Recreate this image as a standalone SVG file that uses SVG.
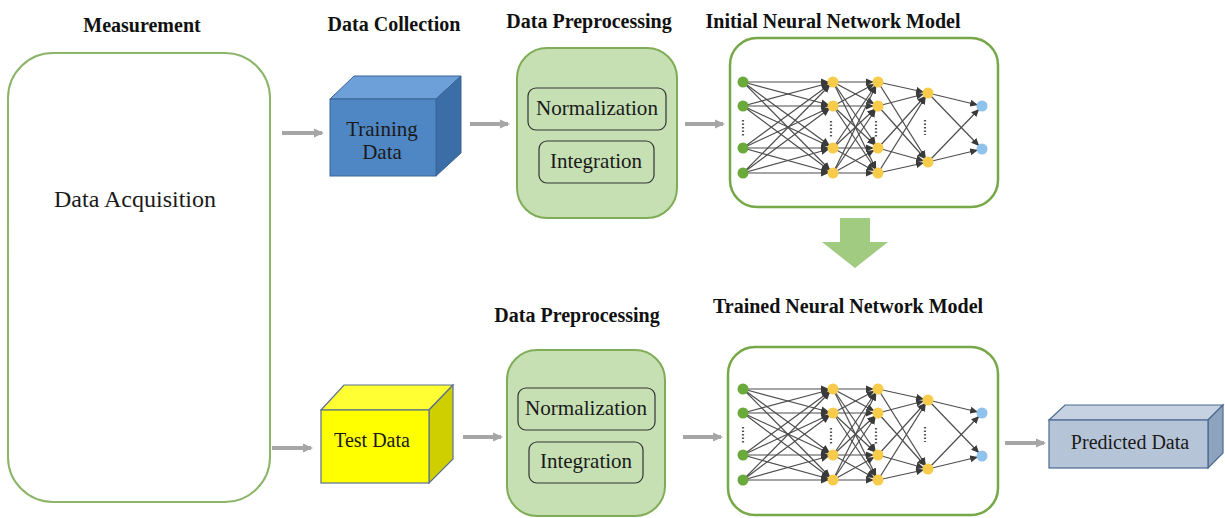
<svg xmlns="http://www.w3.org/2000/svg" xmlns:xlink="http://www.w3.org/1999/xlink" width="1225" height="518" viewBox="0 0 1225 518">
<style>
.title{font-family:"Liberation Serif","DejaVu Serif",serif;font-weight:bold;font-size:20px;fill:#111;text-anchor:middle}
.lbl{font-family:"Liberation Serif","DejaVu Serif",serif;font-weight:normal;font-size:20px;fill:#1a1a1a;text-anchor:middle}
.conn{stroke:#a6a6a6;stroke-width:4;fill:none}
.prep{fill:#c6e0b4;stroke:#7fac56;stroke-width:2}
.inner{fill:#c6e0b4;stroke:#333;stroke-width:1.2}
.nnbox{fill:#fff;stroke:#76a847;stroke-width:2.5}
.e{stroke:#4d4d4d;stroke-width:1.2;fill:none}
.dots{stroke:#555;stroke-width:2.2;stroke-dasharray:1.5 2}
.g{fill:#6aaa3a}.y{fill:#f8cb4a}.b{fill:#8fc3ec}
</style>
<defs>
<marker id="arr" viewBox="0 0 10 10" refX="8" refY="5" markerUnits="userSpaceOnUse" markerWidth="10" markerHeight="10" orient="auto">
<path d="M0,0.5 L10,5 L0,9.5 z" fill="#a6a6a6"/>
</marker>
<marker id="ah" viewBox="0 0 10 10" refX="15" refY="5" markerUnits="userSpaceOnUse" markerWidth="8" markerHeight="8" orient="auto">
<path d="M0,0.5 L10,5 L0,9.5 z" fill="#3a3a3a"/>
</marker>
<g id="net">
<g marker-end="url(#ah)" class="e">
<line x1="743" y1="82" x2="833" y2="82"/><line x1="743" y1="82" x2="833" y2="106"/><line x1="743" y1="82" x2="833" y2="148"/><line x1="743" y1="82" x2="833" y2="173"/>
<line x1="743" y1="106" x2="833" y2="82"/><line x1="743" y1="106" x2="833" y2="106"/><line x1="743" y1="106" x2="833" y2="148"/><line x1="743" y1="106" x2="833" y2="173"/>
<line x1="743" y1="148" x2="833" y2="82"/><line x1="743" y1="148" x2="833" y2="106"/><line x1="743" y1="148" x2="833" y2="148"/><line x1="743" y1="148" x2="833" y2="173"/>
<line x1="743" y1="173" x2="833" y2="82"/><line x1="743" y1="173" x2="833" y2="106"/><line x1="743" y1="173" x2="833" y2="148"/><line x1="743" y1="173" x2="833" y2="173"/>
<line x1="833" y1="82" x2="878" y2="82"/><line x1="833" y1="82" x2="878" y2="106"/><line x1="833" y1="82" x2="878" y2="148"/><line x1="833" y1="82" x2="878" y2="173"/>
<line x1="833" y1="106" x2="878" y2="82"/><line x1="833" y1="106" x2="878" y2="106"/><line x1="833" y1="106" x2="878" y2="148"/><line x1="833" y1="106" x2="878" y2="173"/>
<line x1="833" y1="148" x2="878" y2="82"/><line x1="833" y1="148" x2="878" y2="106"/><line x1="833" y1="148" x2="878" y2="148"/><line x1="833" y1="148" x2="878" y2="173"/>
<line x1="833" y1="173" x2="878" y2="82"/><line x1="833" y1="173" x2="878" y2="106"/><line x1="833" y1="173" x2="878" y2="148"/><line x1="833" y1="173" x2="878" y2="173"/>
<line x1="878" y1="82" x2="928" y2="93"/><line x1="878" y1="82" x2="928" y2="162"/>
<line x1="878" y1="106" x2="928" y2="93"/><line x1="878" y1="106" x2="928" y2="162"/>
<line x1="878" y1="148" x2="928" y2="93"/><line x1="878" y1="148" x2="928" y2="162"/>
<line x1="878" y1="173" x2="928" y2="93"/><line x1="878" y1="173" x2="928" y2="162"/>
<line x1="928" y1="93" x2="982" y2="106"/><line x1="928" y1="93" x2="982" y2="149"/>
<line x1="928" y1="162" x2="982" y2="106"/><line x1="928" y1="162" x2="982" y2="149"/>
</g>
<line class="dots" x1="743" y1="120" x2="743" y2="136"/>
<line class="dots" x1="831" y1="121" x2="831" y2="137"/>
<line class="dots" x1="876" y1="121" x2="876" y2="137"/>
<line class="dots" x1="925" y1="120" x2="925" y2="135"/>
<circle class="g" cx="743" cy="82" r="5.5"/><circle class="g" cx="743" cy="106" r="5.5"/><circle class="g" cx="743" cy="148" r="5.5"/><circle class="g" cx="743" cy="173" r="5.5"/>
<circle class="y" cx="833" cy="82" r="5.5"/><circle class="y" cx="833" cy="106" r="5.5"/><circle class="y" cx="833" cy="148" r="5.5"/><circle class="y" cx="833" cy="173" r="5.5"/>
<circle class="y" cx="878" cy="82" r="5.5"/><circle class="y" cx="878" cy="106" r="5.5"/><circle class="y" cx="878" cy="148" r="5.5"/><circle class="y" cx="878" cy="173" r="5.5"/>
<circle class="y" cx="928" cy="93" r="5.5"/><circle class="y" cx="928" cy="162" r="5.5"/>
<circle class="b" cx="982" cy="106" r="5.5"/><circle class="b" cx="982" cy="149" r="5.5"/>
</g>
</defs>
<rect width="1225" height="518" fill="#fff"/>

<g id="connectors">
<line class="conn" x1="282" y1="133" x2="322" y2="133" marker-end="url(#arr)"/>
<line class="conn" x1="470" y1="124" x2="508" y2="124" marker-end="url(#arr)"/>
<line class="conn" x1="685" y1="124" x2="723" y2="124" marker-end="url(#arr)"/>
<line class="conn" x1="272" y1="448" x2="311" y2="448" marker-end="url(#arr)"/>
<line class="conn" x1="463" y1="437" x2="501" y2="437" marker-end="url(#arr)"/>
<line class="conn" x1="683" y1="437" x2="721" y2="437" marker-end="url(#arr)"/>
<line class="conn" x1="1005" y1="443" x2="1044" y2="443" marker-end="url(#arr)"/>
<polygon points="840,218 870,218 870,242 888,242 855,268 822,242 840,242" fill="#a0cb80"/>
</g>

<g id="measurement">
<text class="title" x="142" y="32">Measurement</text>
<rect x="8" y="53" width="262" height="449" rx="45" fill="#fff" stroke="#8cb56a" stroke-width="2"/>
<text class="lbl" x="135" y="207" font-family="Liberation Serif, serif" style="font-size:24px">Data Acquisition</text>
</g>

<g id="training-data">
<text class="title" x="394" y="31">Data Collection</text>
<polygon points="330,99 354,76 461,76 436,99" fill="#6d9fd8" stroke="#3a6596" stroke-width="1"/>
<polygon points="436,99 461,76 461,153 436,176" fill="#3b6ea6" stroke="#3a6596" stroke-width="1"/>
<rect x="330" y="99" width="106" height="77" fill="#4f87c5" stroke="#3a6596" stroke-width="1"/>
<text class="lbl" x="382" y="136" font-family="Liberation Serif, serif" style="font-size:21px">Training</text>
<text class="lbl" x="382" y="159" font-family="Liberation Serif, serif" style="font-size:21px">Data</text>
</g>

<g id="preprocessing-top">
<text class="title" x="589" y="28">Data Preprocessing</text>
<rect class="prep" x="517" y="48" width="160" height="170" rx="30"/>
<rect class="inner" x="528" y="88" width="138" height="42" rx="8"/>
<text class="lbl" x="597" y="115" font-family="Liberation Serif, serif" style="font-size:22px" textLength="122" lengthAdjust="spacingAndGlyphs">Normalization</text>
<rect class="inner" x="539" y="141" width="115" height="42" rx="8"/>
<text class="lbl" x="596" y="168" font-family="Liberation Serif, serif" style="font-size:21px">Integration</text>
</g>

<g id="initial-model">
<text class="title" x="833" y="28">Initial Neural Network Model</text>
<rect class="nnbox" x="730" y="38" width="268" height="169" rx="27"/>
<use xlink:href="#net" href="#net"/>
</g>

<g id="test-data">
<polygon points="321,410 344,385 453,385 429,410" fill="#ffff33" stroke="#5a7090" stroke-width="1.2"/>
<polygon points="429,410 453,385 453,459 429,483" fill="#cfcf00" stroke="#5a7090" stroke-width="1.2"/>
<rect x="321" y="410" width="108" height="73" fill="#ffff00" stroke="#5a7090" stroke-width="1.2"/>
<text class="lbl" x="372" y="447" font-family="Liberation Serif, serif">Test Data</text>
</g>

<g id="preprocessing-bottom">
<text class="title" x="577" y="322">Data Preprocessing</text>
<rect class="prep" x="507" y="350" width="158" height="166" rx="30"/>
<rect class="inner" x="518" y="388" width="137" height="42" rx="8"/>
<text class="lbl" x="586" y="415" font-family="Liberation Serif, serif" style="font-size:22px" textLength="122" lengthAdjust="spacingAndGlyphs">Normalization</text>
<rect class="inner" x="529" y="442" width="114" height="41" rx="8"/>
<text class="lbl" x="586" y="468" font-family="Liberation Serif, serif" style="font-size:21px">Integration</text>
</g>

<g id="trained-model">
<text class="title" x="848" y="313">Trained Neural Network Model</text>
<rect class="nnbox" x="728" y="347" width="270" height="168" rx="27"/>
<use xlink:href="#net" href="#net" transform="translate(0,307)"/>
</g>

<g id="predicted-data">
<polygon points="1049,420 1065,405 1223,405 1208,420" fill="#c6d2e1" stroke="#4a6a90" stroke-width="1.2"/>
<polygon points="1208,420 1223,405 1223,453 1208,468" fill="#8ea3bd" stroke="#4a6a90" stroke-width="1.2"/>
<rect x="1049" y="420" width="159" height="48" fill="#b5c4d7" stroke="#4a6a90" stroke-width="1.2"/>
<text class="lbl" x="1130" y="449" font-family="Liberation Serif, serif">Predicted Data</text>
</g>
</svg>
